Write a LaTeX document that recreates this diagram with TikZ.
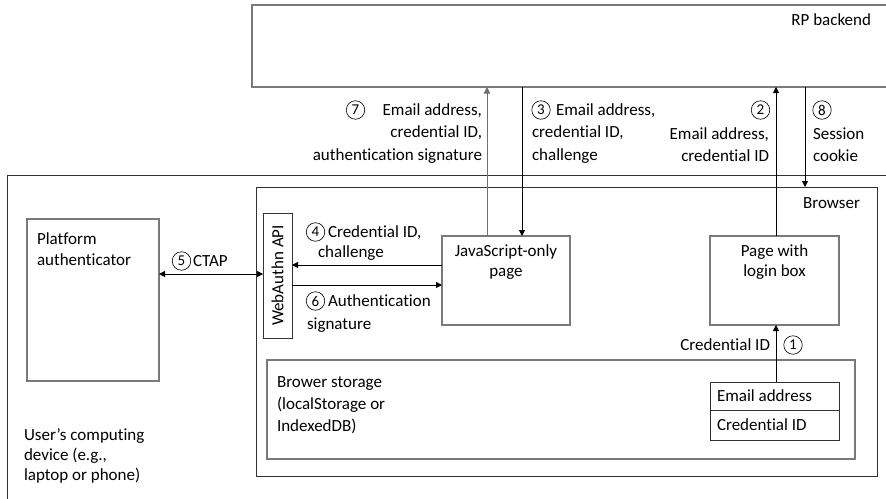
\documentclass[tikz,border=0pt]{standalone}
\usepackage{fontspec}
\setmainfont{Carlito}[Ligatures={NoCommon}]
\usetikzlibrary{arrows.meta}
\definecolor{boxgray}{HTML}{7A7A7A}
\definecolor{dark}{HTML}{333333}
\begin{document}
\begin{tikzpicture}[x=1pt,y=-1pt,
  every node/.style={font=\fontsize{17}{22}\selectfont, inner sep=0pt, outer sep=0pt},
  gbox/.style={draw=boxgray, line width=1.1pt, anchor=north west},
  dbox/.style={draw=dark, line width=0.9pt, anchor=north west},
  cnum/.style={circle, draw=black, line width=0.6pt, minimum size=18.5pt, font=\fontsize{15}{15}\selectfont},
  arr/.style={draw=black, line width=0.8pt, -{Triangle[length=6pt,width=6pt]}},
  garr/.style={draw=dark!70!white, line width=0.9pt, -{Triangle[length=6.5pt,width=6.5pt]}},
  darr/.style={draw=black, line width=0.8pt, {Triangle[length=6pt,width=6pt]}-{Triangle[length=6pt,width=6pt]}}
]
\useasboundingbox (0,0) rectangle (886,498);
% boxes
\node[gbox, minimum width=640pt, minimum height=82pt] (rp) at (252,5) {};
\node[dbox, minimum width=900pt, minimum height=340pt] (dev) at (7,175) {};
\node[dbox, minimum width=621pt, minimum height=289pt] (browser) at (256,187) {};
\node[gbox, minimum width=132pt, minimum height=162pt] (plat) at (27,219) {};
\node[dbox, minimum width=29pt, minimum height=125pt] (wa) at (263,213) {};
\node[gbox, minimum width=128pt, minimum height=89pt] (js) at (442,236) {};
\node[gbox, minimum width=129pt, minimum height=89pt] (login) at (710,236) {};
\node[gbox, minimum width=588pt, minimum height=99pt] (store) at (267,360) {};
\node[dbox, minimum width=129pt, minimum height=28pt] (email) at (710,382) {};
\node[dbox, minimum width=129pt, minimum height=30pt] (cred) at (710,410) {};
% box texts
\node[anchor=east] (rptxt) at (871,20) {RP backend};
\node[anchor=east] (brtxt) at (860,203) {Browser};
\node[anchor=north west, align=left, font=\fontsize{17}{21}\selectfont] (pltxt) at (37,232.5) {Platform\\authenticator};
\node[anchor=north west, align=left, font=\fontsize{17}{20}\selectfont] (devtxt) at (24,428.5) {User’s computing\\device (e.g.,\\laptop or phone)};
\node[anchor=north west, align=left] (sttxt) at (277,376.5) {Brower storage\\(localStorage or\\IndexedDB)};
\node[anchor=north, align=center, font=\fontsize{17}{20}\selectfont] (jstxt) at (506,244.5) {JavaScript-only\\page};
\node[anchor=north, align=center, font=\fontsize{17}{20}\selectfont] (lgtxt) at (774.5,244.5) {Page with\\login box};
\node[rotate=90] (watxt) at (wa.center) {WebAuthn API};
\node[anchor=west] (emtxt) at (717,396) {Email address};
\node[anchor=west] (crtxt) at (717,425) {Credential ID};
% connector x/y positions
\coordinate (x7) at (487,0);
\coordinate (x3) at (522,0);
\coordinate (x2) at (776,0);
\coordinate (x8) at (805,0);
\coordinate (y4) at (0,265);
\coordinate (y6) at (0,285);
\coordinate (y5) at (0,274);
% connectors
\draw[garr] (js.north -| x7) -- (rp.south -| x7);
\draw[arr] (rp.south -| x3) -- (js.north -| x3);
\draw[arr] (login.north -| x2) -- (rp.south -| x2);
\draw[arr] (rp.south -| x8) -- (browser.north -| x8);
\draw[arr] (email.north -| x2) -- (login.south -| x2);
\draw[arr] (js.west |- y4) -- (wa.east |- y4);
\draw[arr] (wa.east |- y6) -- (js.west |- y6);
\draw[darr] (plat.east |- y5) -- (wa.west |- y5);
% labels
\node[cnum] (c7) at (355.5,110) {7};
\node[anchor=north east, align=right, font=\fontsize{17}{22.5}\selectfont] (l7) at (482,103.5) {Email address,\\credential ID,\\authentication signature};
\node[cnum] (c3) at (541,110) {3};
\node[anchor=north west, align=left, font=\fontsize{17}{22.5}\selectfont] (l3) at (532,103.5) {\hspace*{24pt}Email address,\\credential ID,\\challenge};
\node[cnum] (c2) at (760.5,110) {2};
\node[anchor=north east, align=right] (l2) at (769,127.5) {Email address,\\credential ID};
\node[cnum] (c8) at (822,110) {8};
\node[anchor=north west, align=left] (l8) at (813,127.5) {Session\\cookie};
\node[cnum] (c4) at (315.5,232) {4};
\node[anchor=north west, align=left, font=\fontsize{17}{20}\selectfont] (l4) at (307,225.5) {\hspace*{21pt}Credential ID,\\\hspace*{11pt}challenge};
\node[cnum] (c5) at (181.5,261) {5};
\node[anchor=west] (l5) at (193,261) {CTAP};
\node[cnum] (c6) at (315.5,301) {6};
\node[anchor=north west, align=left, font=\fontsize{17}{23}\selectfont] (l6) at (307,294.5) {\hspace*{21pt}Authentication\\signature};
\node[anchor=east] (l1) at (770,345) {Credential ID};
\node[cnum] (c1) at (793,345) {1};
\end{tikzpicture}
\end{document}
